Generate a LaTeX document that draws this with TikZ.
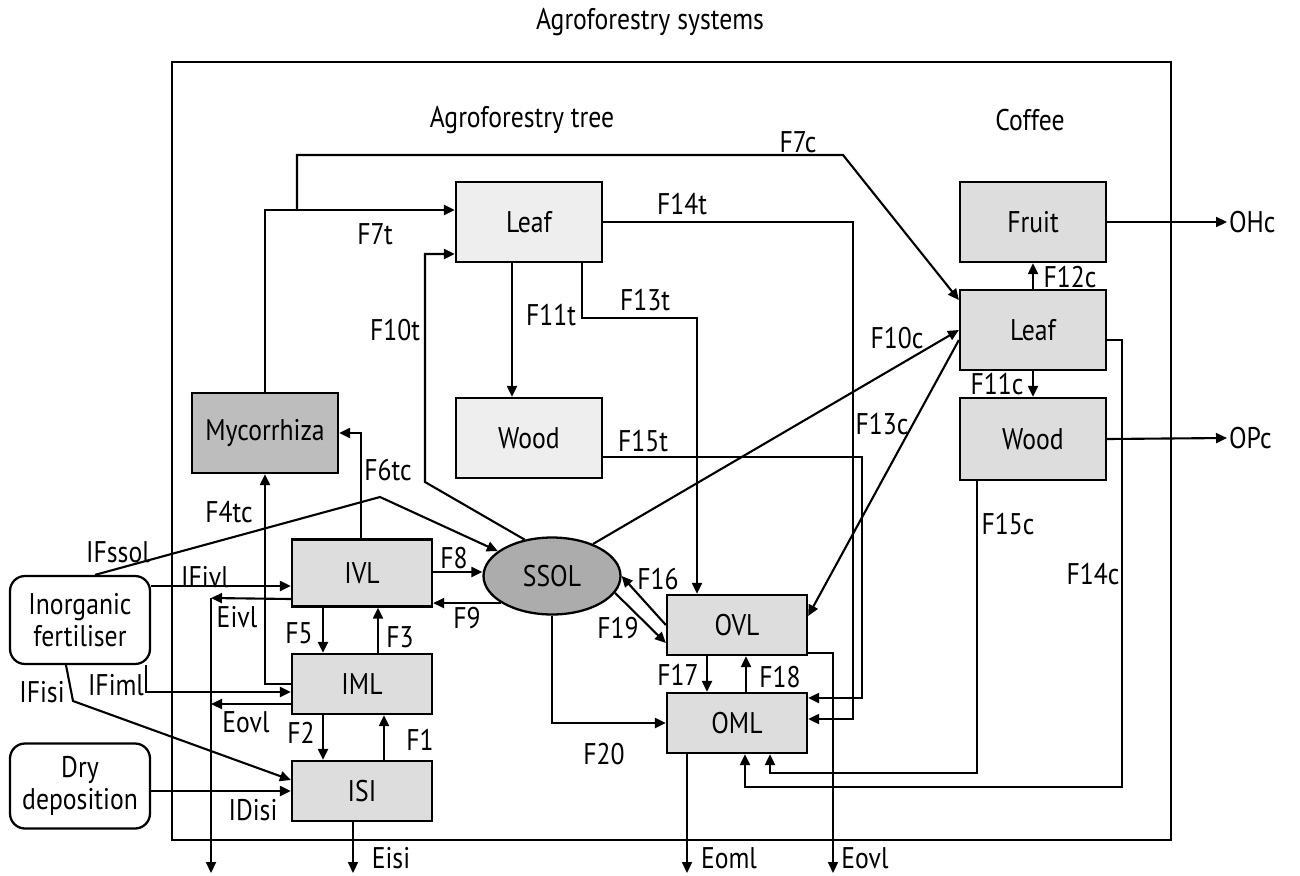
\documentclass[tikz,border=0pt]{standalone}
\usepackage{fontspec}
\setmainfont{PT Sans}[FakeStretch=0.86]
\usepackage{tikz}
\usetikzlibrary{positioning, arrows.meta, shapes.geometric}

\begin{document}
\begin{tikzpicture}[
            x=0.02cm, y=-0.02cm,
            every node/.style={font=\fontsize{17}{18.5}\selectfont},
            pool/.style={draw, line width=1.3pt, minimum width=2.8cm, minimum height=1.2cm, inner sep=0pt, fill=gray!27},
            organ/.style={pool, minimum width=2.92cm, minimum height=1.6cm},
            source/.style={draw, line width=1.3pt, rounded corners=0.3cm, minimum width=2.8cm, align=center, inner sep=0pt},
            flow/.style={line width=1.2pt, -{Triangle[length=2.2mm, width=2mm]}},
            lbl/.style={inner sep=1pt}
        ]
        \useasboundingbox (0,0) rectangle (1300,875);
        % Frame and headings
        \draw[line width=1.3pt] (172,62) rectangle (1171,840);
        \node (title) at (650,22) {Agroforestry systems};
        \node (treehead) at (522,120) {Agroforestry tree};
        \node (coffeehead) at (1030,120) {Coffee};

        % Tree organs
        \node[organ, fill=gray!13] (tleaf) at (529,222) {Leaf};
        \node[organ, fill=gray!13] (twood) at (529,438) {Wood};
        \node[organ, fill=gray!52] (myco) at (265,433) {Mycorrhiza};

        % Coffee organs
        \node[organ] (fruit) at (1033,222) {Fruit};
        \node[organ] (cleaf) at (1033,330) {Leaf};
        \node[organ, minimum height=1.64cm] (cwood) at (1033,439) {Wood};

        % Soil pools
        \node[pool, minimum height=1.34cm] (ivl) at (362,573) {IVL};
        \node[pool] (iml) at (362,684) {IML};
        \node[pool] (isi) at (362,791) {ISI};
        \node[ellipse, draw, line width=1.3pt, fill=gray!65, minimum width=2.74cm, minimum height=1.54cm, inner sep=0pt] (ssol) at (552,576) {SSOL};
        \node[pool] (ovl) at (737,625) {OVL};
        \node[pool] (oml) at (737,723) {OML};

        % Inputs
        \node[source, minimum height=1.76cm] (fert) at (80,620) {Inorganic\\fertiliser};
        \node[source, minimum height=1.7cm] (dry) at (80,786) {Dry\\deposition};

        % Outputs
        \node[anchor=west, inner sep=1pt] (ohc) at (1227,222) {OHc};
        \node[anchor=west, inner sep=1pt] (opc) at (1227,438) {OPc};
        \coordinate (etop) at (211,598);
        \coordinate (eout) at (211,873);
        \coordinate (eisiout) at (353,873);
        \coordinate (eomlout) at (687,873);
        \coordinate (eovlout) at (833,873);
        \coordinate (f7split) at (297,210);

        % Fertiliser and deposition inputs
        \draw[flow] (fert.north -| 95,0) -- (380,497) -- (ssol);
        \draw[flow] (fert.east |- 0,586) -- (ivl.west |- 0,586);
        \draw[flow] (fert.south -| 146,0) |- (iml.west |- 0,692);
        \draw[flow] (fert.south -| 66,0) -- (73,701) -- (isi.west |- 0,780);
        \draw[flow] (dry.east |- 0,791) -- (isi.west |- 0,791);

        % Losses
        \draw[flow] (ivl.west |- 0,599) -- (etop);
        \draw[flow] (iml.west |- 0,704) -- (etop |- 0,704);
        \draw[flow] (etop) -- (eout);
        \draw[flow] (isi.south -| eisiout) -- (eisiout);
        \draw[flow] (oml.south -| eomlout) -- (eomlout);
        \draw[flow] (ovl.east |- 0,653) -| (eovlout);

        % Inorganic pools
        \draw[flow] (ivl.south -| 323,0) -- (iml.north -| 323,0);
        \draw[flow] (iml.north -| 378,0) -- (ivl.south -| 378,0);
        \draw[flow] (iml.south -| 323,0) -- (isi.north -| 323,0);
        \draw[flow] (isi.north -| 384,0) -- (iml.south -| 384,0);
        \draw[flow] (ivl.east |- 0,572) -- (ssol.west |- 0,572);
        \draw[flow] (ssol.208) -- (ssol.208 -| ivl.east);

        % Mycorrhiza
        \draw[flow] (iml.west) -- (myco.south |- iml.west) -- (myco.south);
        \draw[flow] (ivl.north -| 361,0) |- (myco.east);
        \draw[flow] (myco.north) |- (tleaf.west |- 0,210);
        \draw[flow] (f7split) |- (843,155) -- (cleaf.west |- 0,300);

        % Tree flows
        \draw[flow] (ssol.127) -- (425,482) |- (tleaf.west |- 0,254);
        \draw[flow] (tleaf.south -| 512,0) -- (twood.north -| 512,0);
        \draw[flow] (tleaf.south -| 582,0) |- (697,318) -- (ovl.north -| 697,0);
        \draw[flow] (tleaf.east) -| (853,719) -- (oml.east |- 0,719);
        \draw[flow] (twood.east |- 0,457) -| (862,698) -- (oml.east |- 0,698);

        % Organic pools
        \draw[flow] (ovl.west |- 0,625) -- (ssol.east);
        \draw[flow] (ssol.-15) -- (ovl.west |- 0,643);
        \draw[flow] (ssol.south) |- (oml.west);
        \draw[flow] (ovl.south -| 707,0) -- (oml.north -| 707,0);
        \draw[flow] (oml.north -| 746,0) -- (ovl.south -| 746,0);

        % Coffee flows
        \draw[flow] (ssol.38) -- (cleaf.west);
        \draw[flow] (cleaf.west |- 0,340) -- (ovl.east |- 0,616);
        \draw[flow] (cleaf.south) -- (cwood.north);
        \draw[flow] (cleaf.north) -- (fruit.south);
        \draw[flow] (fruit.east) -- (ohc.west);
        \draw[flow] (cwood.east) -- (opc.west);
        \draw[flow] (cwood.south -| 977,0) |- (770,773) -- (oml.south -| 770,0);
        \draw[flow] (cleaf.east |- 0,340) -| (1122,787) -| (oml.south -| 745,0);

        % Flow labels
        \node[lbl] (lifssol) at (118,552) {IFssol};
        \node[lbl] (lifivl) at (205,577) {IFivl};
        \node[lbl] (leivl) at (237,617) {Eivl};
        \node[lbl] (lifiml) at (116,685) {IFiml};
        \node[lbl] (lifisi) at (42,692) {IFisi};
        \node[lbl] (leovla) at (246,722) {Eovl};
        \node[lbl] (ldisi) at (253,810) {IDisi};
        \node[lbl] (lf4tc) at (229,512) {F4tc};
        \node[lbl] (lf6tc) at (388,470) {F6tc};
        \node[lbl] (lf7t) at (375,234) {F7t};
        \node[lbl] (lf7c) at (798,142) {F7c};
        \node[lbl] (lf10t) at (395,330) {F10t};
        \node[lbl] (lf11t) at (551,315) {F11t};
        \node[lbl] (lf13t) at (645,300) {F13t};
        \node[lbl] (lf14t) at (682,204) {F14t};
        \node[lbl] (lf15t) at (643,441) {F15t};
        \node[lbl] (lf8) at (454,558) {F8};
        \node[lbl] (lf9) at (467,618) {F9};
        \node[lbl] (lf5) at (299,633) {F5};
        \node[lbl] (lf3) at (400,637) {F3};
        \node[lbl] (lf2) at (301,733) {F2};
        \node[lbl] (lf1) at (420,740) {F1};
        \node[lbl] (leisi) at (391,858) {Eisi};
        \node[lbl] (lf16) at (658,579) {F16};
        \node[lbl] (lf19) at (618,628) {F19};
        \node[lbl] (lf20) at (604,754) {F20};
        \node[lbl] (lf17) at (678,675) {F17};
        \node[lbl] (lf18) at (780,677) {F18};
        \node[lbl] (leoml) at (729,858) {Eoml};
        \node[lbl] (leovlb) at (865,858) {Eovl};
        \node[lbl] (lf15c) at (1008,524) {F15c};
        \node[lbl] (lf14c) at (1093,574) {F14c};
        \node[lbl] (lf11c) at (997,384) {F11c};
        \node[lbl] (lf12c) at (1070,277) {F12c};
        \node[lbl] (lf10c) at (897,338) {F10c};
        \node[lbl] (lf13c) at (882,424) {F13c};
    \end{tikzpicture}
\end{document}
